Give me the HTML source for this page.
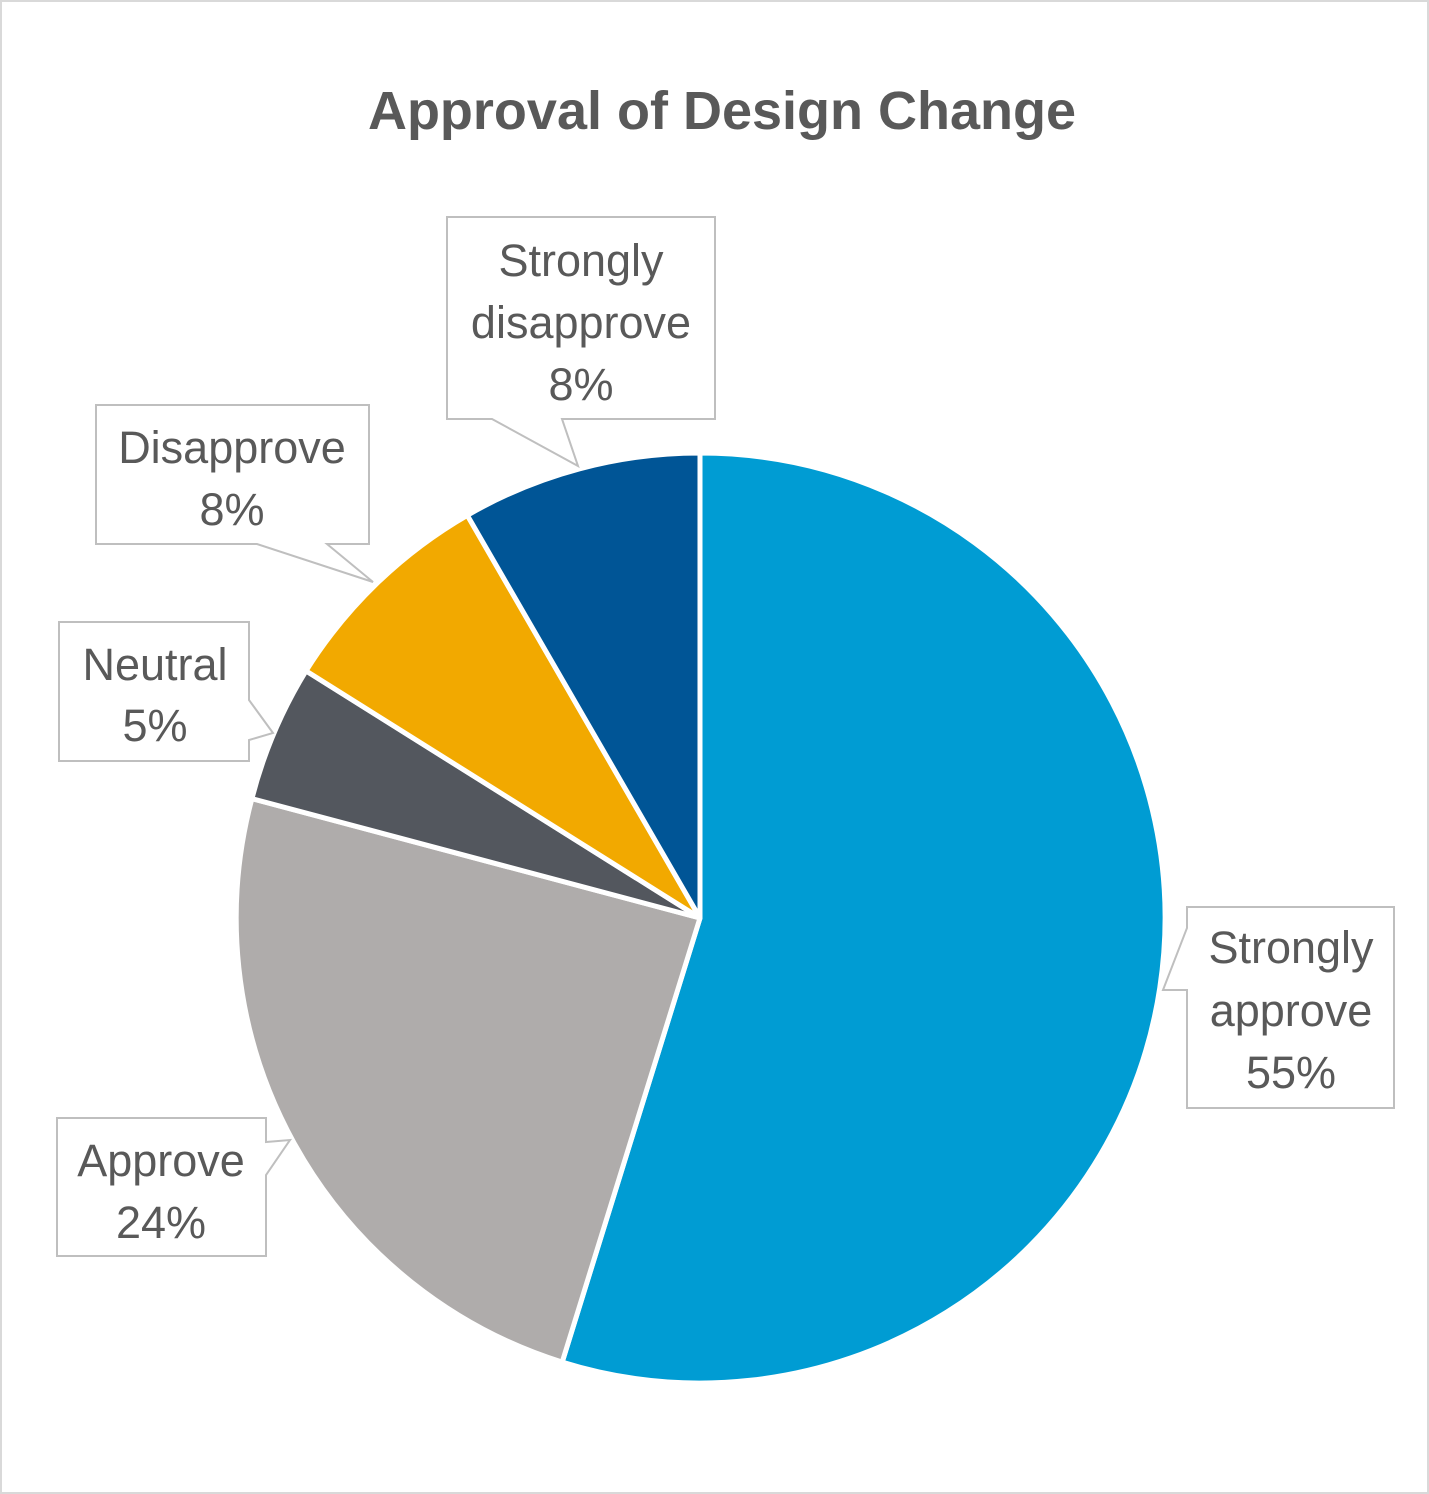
<!DOCTYPE html>
<html><head><meta charset="utf-8"><style>
html,body{margin:0;padding:0;background:#fff}
svg{display:block}
text{font-family:"Liberation Sans",Arial,sans-serif;fill:#595959}
</style></head><body>
<svg width="1429" height="1494" viewBox="0 0 1429 1494">
<rect x="1" y="1" width="1427" height="1492" fill="#fff" stroke="#d9d9d9" stroke-width="2"/>
<text x="722" y="129" text-anchor="middle" font-size="54" font-weight="bold">Approval of Design Change</text>
<g stroke="#fff" stroke-width="5" stroke-linejoin="round">
<path d="M700,918 L700,453 A465,465 0 1 1 562.2,1362.1 Z" fill="#009CD3"/>
<path d="M700,918 L562.2,1362.1 A465,465 0 0 1 251.9,798.6 Z" fill="#AFACAB"/>
<path d="M700,918 L251.9,798.6 A465,465 0 0 1 306.0,670.9 Z" fill="#53575E"/>
<path d="M700,918 L306.0,670.9 A465,465 0 0 1 467.3,515.3 Z" fill="#F2A900"/>
<path d="M700,918 L467.3,515.3 A465,465 0 0 1 700,453 Z" fill="#005596"/>
</g>
<g fill="#fff" stroke="#bfbfbf" stroke-width="2">
<path d="M447,217 H715 V419 H562 L578,466 L492,419 H447 Z"/>
<path d="M96,405 H369 V544 H327 L373,582 L257,544 H96 Z"/>
<path d="M59,622 H249 V700 L273,733 L249,740 V761 H59 Z"/>
<path d="M1187,907 H1394 V1108 H1187 V990 L1163,990 L1187,928 Z"/>
<path d="M57,1118 H266 V1142 L290,1140 L266,1175 V1256 H57 Z"/>
</g>
<g font-size="45" text-anchor="middle">
<text x="581" y="276">Strongly</text>
<text x="581" y="338">disapprove</text>
<text x="581" y="400">8%</text>
<text x="232" y="463">Disapprove</text>
<text x="232" y="525">8%</text>
<text x="155" y="680">Neutral</text>
<text x="155" y="741">5%</text>
<text x="1291" y="963">Strongly</text>
<text x="1291" y="1026">approve</text>
<text x="1291" y="1088">55%</text>
<text x="161" y="1176">Approve</text>
<text x="161" y="1238">24%</text>
</g>
</svg>
</body></html>
